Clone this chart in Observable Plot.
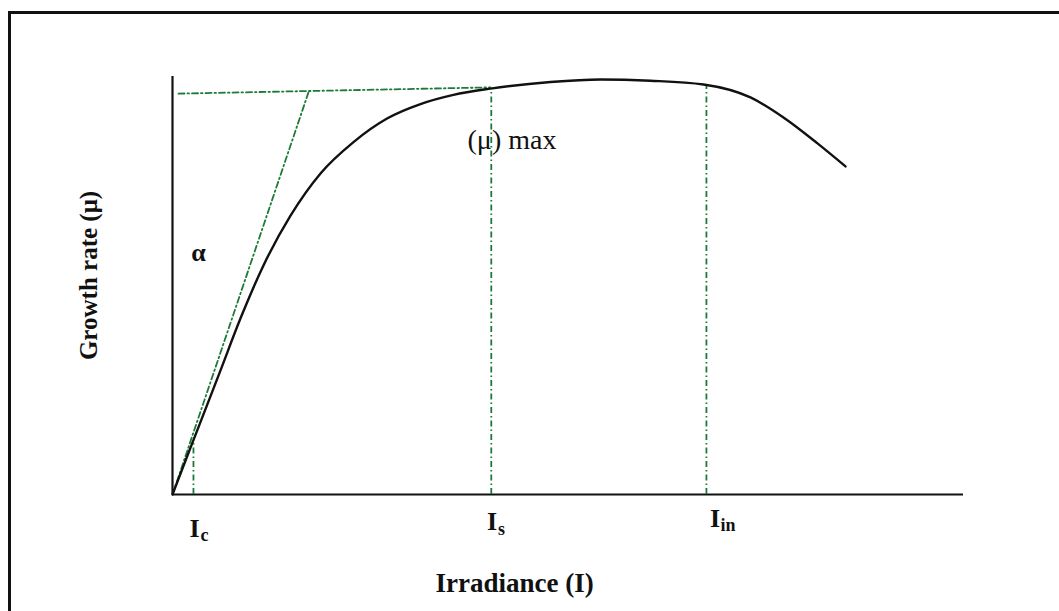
<!DOCTYPE html>
<html>
<head>
<meta charset="utf-8">
<script src="https://cdn.jsdelivr.net/npm/d3@7"></script>
<script src="https://cdn.jsdelivr.net/npm/@observablehq/plot@0.6"></script>
<style>
  html, body { margin: 0; padding: 0; background: #fff; overflow: hidden; }
  #wrap { position: relative; width: 1059px; height: 611px; overflow: hidden; }
  #frame { position: absolute; left: 8px; top: 11px; width: 1100px; height: 700px;
           border-top: 3px solid #111; border-left: 3px solid #111; box-sizing: border-box; }
  #chart { position: absolute; left: 0; top: 0; }
</style>
</head>
<body>
<div id="wrap"><div id="frame"></div><div id="chart"></div></div>
<script>
// Growth rate response curve (irradiance I in arbitrary units, growth rate μ relative)
const curveI  = [0, 2.28, 6.07, 8.60, 11.50, 14.92, 18.71, 22.88, 27.18, 31.35, 35.52, 40.20, 47.79, 54.11, 60.43, 67.13, 73.07, 77.24, 81.54, 85.08];
const curveMu = [0, 0.112, 0.297, 0.4215, 0.548, 0.667, 0.768, 0.843, 0.900, 0.934, 0.956, 0.971, 0.987, 0.993, 0.990, 0.981, 0.950, 0.902, 0.840, 0.785];

// initial slope (alpha) line and the mu-max reference line
const alphaI  = [0, 17.19];
const alphaMu = [0, 0.962];
const maxI    = [0.76, 40.2];
const maxMu   = [0.959, 0.974];

// characteristic irradiances: Ic, Is, Iin and where each meets the curve
const markNames = ["c", "s", "in"];
const markI     = [2.65, 40.3, 67.5];
const markTopMu = [0.122, 0.971, 0.981];

// label positions
const labelI   = [2.78, 40.39, 68.58];
const labelY   = [-0.0825, -0.0658, -0.0586];
const subI     = [4.05, 41.6, 70.23];
const subY     = [-0.0972, -0.083, -0.073];

const xTitle = "Irradiance (I)";
const yTitle = "Growth rate (\u03bc)";
const alphaLabel = "\u03b1";
const maxLabel = "(\u03bc) max";

const curve = curveI.map((v, i) => ({I: v, mu: curveMu[i]}));
const alpha = alphaI.map((v, i) => ({I: v, mu: alphaMu[i]}));
const maxLine = maxI.map((v, i) => ({I: v, mu: maxMu[i]}));
const marks = markNames.map((n, i) => ({name: n, I: markI[i], top: markTopMu[i], lx: labelI[i], ly: labelY[i], sx: subI[i], sy: subY[i]}));

const green = "#1d7a3a";
const dash = "6,3,1.5,3";
const serif = "'Liberation Serif', 'Times New Roman', serif";

const chart = Plot.plot({
  width: 1059,
  height: 611,
  marginLeft: 172,
  marginRight: 96,
  marginTop: 76,
  marginBottom: 117,
  x: {domain: [0, 100], axis: null},
  y: {domain: [0, 1], axis: null},
  style: {background: "transparent", fontFamily: serif, overflow: "visible"},
  marks: [
    // axes
    Plot.ruleX([0], {y1: 0, y2: 1, stroke: "#111", strokeWidth: 2.2}),
    Plot.ruleY([0], {x1: 0, x2: 100, stroke: "#111", strokeWidth: 2.2}),
    // green reference lines
    Plot.line(alpha, {x: "I", y: "mu", stroke: green, strokeWidth: 1.8, strokeDasharray: dash}),
    Plot.line(maxLine, {x: "I", y: "mu", stroke: green, strokeWidth: 1.8, strokeDasharray: dash}),
    Plot.ruleX(marks, {x: "I", y1: 0, y2: "top", stroke: green, strokeWidth: 1.8, strokeDasharray: dash}),
    // growth curve
    Plot.line(curve, {x: "I", y: "mu", stroke: "#111", strokeWidth: 2.4, curve: "monotone-x"}),
    // characteristic irradiance labels
    Plot.text(marks, {x: "lx", y: "ly", text: () => "I", fontSize: 26, fontWeight: "bold", fill: "#111"}),
    Plot.text(marks, {x: "sx", y: "sy", text: "name", fontSize: 18, fontWeight: "bold", fill: "#111"}),
    // annotations
    Plot.text([alphaLabel], {x: 3.29, y: 0.579, text: d => d, fontSize: 26, fontWeight: "bold", fill: "#111"}),
    Plot.text([maxLabel], {x: 37.3, y: 0.847, text: d => d, fontSize: 28, textAnchor: "start", fill: "#111"}),
    // axis titles
    Plot.text([xTitle], {x: 43.24, y: -0.213, text: d => d, fontSize: 27, fontWeight: "bold", fill: "#111"}),
    Plot.text([yTitle], {x: -10.5, y: 0.524, text: d => d, fontSize: 25, fontWeight: "bold", rotate: -90, fill: "#111"})
  ]
});
document.getElementById("chart").appendChild(chart);
</script>
</body>
</html>
